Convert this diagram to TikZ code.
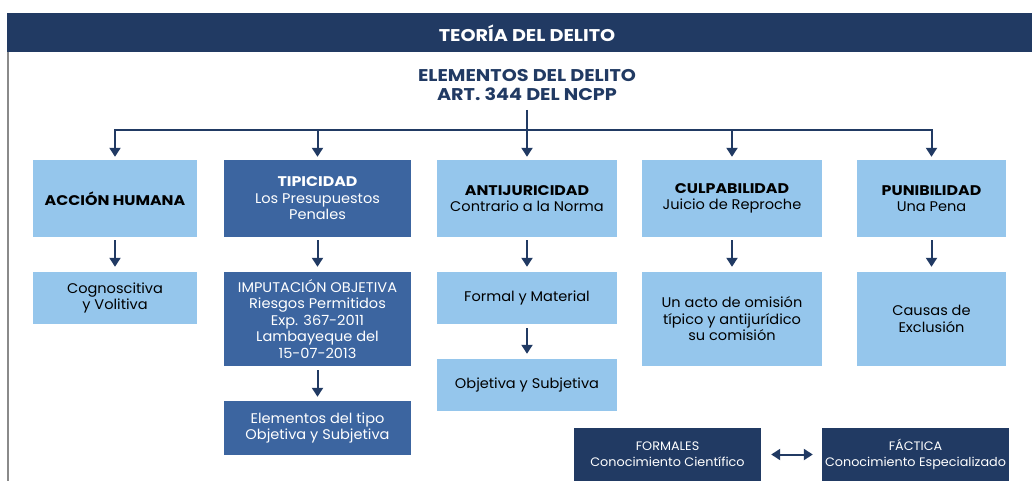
\documentclass[tikz,border=0pt]{standalone}
\usepackage{fontspec}
\setmainfont{Poppins}[FakeStretch=1.04, BoldFeatures={FakeStretch=1.13}]
\usetikzlibrary{arrows.meta}
\definecolor{navy}{HTML}{213A63}
\definecolor{midblue}{HTML}{3C65A0}
\definecolor{lightblue}{HTML}{95C6EC}
\definecolor{edgegray}{HTML}{8A8A8A}
\tikzset{
  boxlight/.style={fill=lightblue, text=black, align=center, inner sep=0pt,
    font=\fontsize{14}{16.5}\selectfont},
  boxmid/.style={fill=midblue, text=white, align=center, inner sep=0pt,
    font=\fontsize{14}{16.5}\selectfont},
  boxnavy/.style={fill=navy, text=white, align=center, inner sep=0pt,
    font=\fontsize{12.3}{16}\selectfont},
  conn/.style={draw=navy, line width=2pt},
  arr/.style={draw=navy, line width=2pt, -{Triangle[width=11pt,length=9pt]}},
  dblarr/.style={draw=navy, line width=2pt, {Triangle[width=11pt,length=9pt]}-{Triangle[width=11pt,length=9pt]}},
}
\begin{document}
\begin{tikzpicture}[x=1pt,y=-1pt]
\useasboundingbox (0,0) rectangle (1032,481);
% header band and frame line
\fill[navy] (7,13) rectangle (1032,52.5);
\draw[edgegray, line width=1.6pt] (8,52.5) -- (8,481);
\node[text=white, font=\fontsize{17}{19}\selectfont\bfseries] (head) at (527,33) {TEORÍA DEL DELITO};
% title
\node[text=navy, align=center, inner sep=0pt, font=\fontsize{17}{19}\selectfont\bfseries] (elem) at (527,85) {ELEMENTOS DEL DELITO\\ART. 344 DEL NCPP};
\coordinate (hub) at (527,130);
% row 1
\node[boxlight, minimum width=164pt, minimum height=77pt] (acc) at (115,198.5) {\textbf{ACCIÓN HUMANA}};
\node[boxmid, minimum width=187pt, minimum height=77pt] (tip) at (317.5,198.5) {\textbf{TIPICIDAD}\\Los Presupuestos\\Penales};
\node[boxlight, minimum width=180pt, minimum height=77pt] (antij) at (527,198.5) {\textbf{ANTIJURICIDAD}\\Contrario a la Norma};
\node[boxlight, minimum width=180pt, minimum height=77pt] (culp) at (732,198.5) {\textbf{CULPABILIDAD}\\Juicio de Reproche};
\node[boxlight, minimum width=149pt, minimum height=77pt] (puni) at (931.5,198.5) {\textbf{PUNIBILIDAD}\\Una Pena};
% row 2
\node[boxlight, minimum width=164pt, minimum height=52pt] (cog) at (115,298) {Cognoscitiva\\y Volitiva};
\node[boxmid, minimum width=187pt, minimum height=94pt] (imp) at (317.5,319) {IMPUTACIÓN OBJETIVA\\Riesgos Permitidos\\Exp. 367-2011\\Lambayeque del\\15-07-2013};
\node[boxlight, minimum width=180pt, minimum height=52pt] (formal) at (527,298) {Formal y Material};
\node[boxlight, minimum width=180pt, minimum height=94pt] (acto) at (732,319) {Un acto de omisión\\típico y antijurídico\\su comisión};
\node[boxlight, minimum width=149pt, minimum height=94pt] (causas) at (931.5,319) {Causas de\\Exclusión};
% row 3
\node[boxmid, minimum width=187pt, minimum height=54pt] (etipo) at (317.5,428) {Elementos del tipo\\Objetiva y Subjetiva};
\node[boxlight, minimum width=180pt, minimum height=52pt] (objsub) at (527,385) {Objetiva y Subjetiva};
% bottom
\node[boxnavy, minimum width=187pt, minimum height=53pt] (formales) at (667.5,454.5) {FORMALES\\Conocimiento Científico};
\node[boxnavy, minimum width=187pt, minimum height=53pt] (factica) at (915.5,454.5) {FÁCTICA\\Conocimiento Especializado};
% connectors
\draw[conn, shorten <=9pt] (elem.south) -- (hub);
\draw[arr, shorten >=3pt] (hub) -| (acc.north);
\draw[arr, shorten >=3pt] (hub) -| (tip.north);
\draw[arr, shorten >=3pt] (hub) -- (antij.north);
\draw[arr, shorten >=3pt] (hub) -| (culp.north);
\draw[arr, shorten >=3pt] (hub) -| (puni.north);
\draw[arr, shorten <=3pt, shorten >=5pt] (acc) -- (cog);
\draw[arr, shorten <=3pt, shorten >=5pt] (tip) -- (imp);
\draw[arr, shorten <=3pt, shorten >=5pt] (antij) -- (formal);
\draw[arr, shorten <=3pt, shorten >=5pt] (culp) -- (acto);
\draw[arr, shorten <=3pt, shorten >=5pt] (puni) -- (causas);
\draw[arr, shorten <=4pt, shorten >=4pt] (imp) -- (etipo);
\draw[arr, shorten <=4pt, shorten >=5pt] (formal) -- (objsub);
\draw[dblarr, shorten <=10pt, shorten >=9pt] (formales) -- (factica);
\end{tikzpicture}
\end{document}
